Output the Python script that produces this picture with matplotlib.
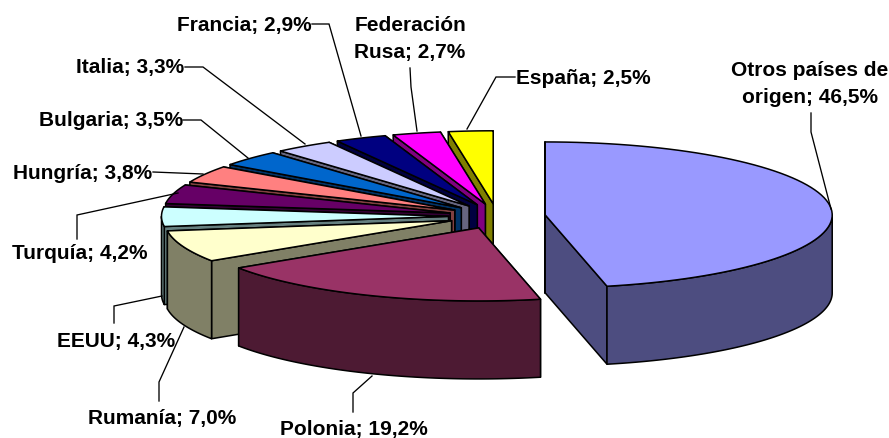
import numpy as np
import matplotlib
matplotlib.use("Agg")
import matplotlib.pyplot as plt
from matplotlib.patches import Polygon

# --- data ---
countries = ["Otros países de\norigen", "Polonia", "Rumanía", "EEUU", "Turquía", "Hungría",
             "Bulgaria", "Italia", "Francia", "Federación\nRusa", "España"]
shares = [46.5, 19.2, 7.0, 4.3, 4.2, 3.8, 3.5, 3.3, 2.9, 2.7, 2.5]
colors = ["#9999FF", "#993366", "#FFFFCC", "#CCFFFF", "#660066", "#FF8080",
          "#0066CC", "#CCCCFF", "#000080", "#FF00FF", "#FFFF00"]

# --- pie geometry (pixel space of the figure) ---
CX, CY = 497.0, 217.3
RX, RY = 287.0, 73.0
EXPLODE_X, EXPLODE_Y = 0.169, 0.172
DEPTH = 78.0
LW = 1.1

# --- label layout: x, y, horizontal alignment ---
label_pos = [(810, 84, "center"), (354, 430, "center"), (162, 419, "center"),
             (116, 342, "center"), (80, 254, "center"), (83, 174, "center"),
             (111, 121, "center"), (130, 68, "center"), (244, 25, "center"),
             (410, 39, "center"), (583, 79, "center")]
leaders = [[(811, 114), (811, 133), (831, 210)],
           [(353, 413), (353, 394), (372, 377)],
           [(159, 402), (159, 383), (184, 328)],
           [(114, 324), (114, 307), (162, 297)],
           [(77, 240), (77, 216), (178, 194)],
           [(153, 173), (203, 175)],
           [(183, 121), (201, 121), (248, 159)],
           [(185, 68), (203, 68), (305, 145)],
           [(312, 25), (329, 25), (361, 137)],
           [(410, 69), (411, 88), (417, 132)],
           [(515, 78), (496, 78), (467, 130)]]

fig = plt.figure(figsize=(8.89, 4.39), dpi=100, facecolor="white")
ax = fig.add_axes([0, 0, 1, 1])
ax.set_xlim(0, 889)
ax.set_ylim(439, 0)
ax.axis("off")


def darker(c):
    r, g, b = matplotlib.colors.to_rgb(c)
    return (r * 0.5, g * 0.5, b * 0.5)


vals = np.array(shares, dtype=float)
edges = np.concatenate([[0], np.cumsum(vals)]) / vals.sum() * 2 * np.pi


def face(pts, color, z):
    ax.add_patch(Polygon(pts, closed=True, facecolor=color, edgecolor="black",
                         linewidth=LW, joinstyle="round", zorder=z))


for i in range(len(vals) - 1, -1, -1):
    a, b = edges[i], edges[i + 1]
    m = (a + b) / 2
    ax_c = CX + EXPLODE_X * RX * np.sin(m)
    ay_c = CY - EXPLODE_Y * RY * np.cos(m)
    t = np.linspace(a, b, 80)
    xs = ax_c + RX * np.sin(t)
    ys = ay_c - RY * np.cos(t)
    z = 10 + (len(vals) - i) * 3
    side = darker(colors[i])

    # radial faces, back one first
    radial = [(a, xs[0], ys[0]), (b, xs[-1], ys[-1])]
    radial.sort(key=lambda r: r[2])
    for _, ex, ey in radial:
        face([(ax_c, ay_c), (ex, ey), (ex, ey + DEPTH), (ax_c, ay_c + DEPTH)], side, z)

    # outer wall: only the part turned to the viewer
    lo, hi = max(a, np.pi / 2), min(b, 3 * np.pi / 2)
    if hi > lo:
        w = np.linspace(lo, hi, 80)
        wx = ax_c + RX * np.sin(w)
        wy = ay_c - RY * np.cos(w)
        wall = np.column_stack([np.r_[wx, wx[::-1]], np.r_[wy, wy[::-1] + DEPTH]])
        face(wall, side, z + 1)

    # top
    top = np.column_stack([np.r_[ax_c, xs], np.r_[ay_c, ys]])
    face(top, colors[i], z + 2)

for pts in leaders:
    p = np.array(pts)
    ax.plot(p[:, 0], p[:, 1], color="black", lw=0.95, zorder=60, solid_joinstyle="miter")

for name, share, (x, y, ha) in zip(countries, shares, label_pos):
    txt = f"{name}; {share:.1f}%".replace(".", ",")
    ax.text(x, y, txt, ha=ha, va="center", multialignment="center",
            family=["Liberation Sans", "DejaVu Sans"], fontweight="bold",
            fontsize=15.0, color="black", linespacing=1.58, zorder=70)

fig.savefig("out.png", dpi=100, facecolor="white")
